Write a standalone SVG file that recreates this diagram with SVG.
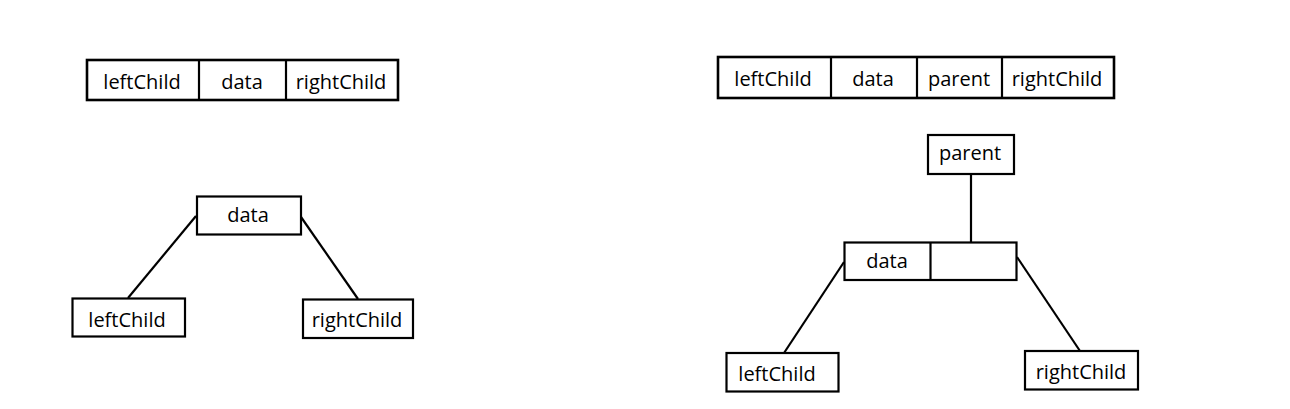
<svg xmlns="http://www.w3.org/2000/svg" width="1290" height="409" viewBox="0 0 1290 409">
<style>
.box{fill:#fff;stroke:#000;stroke-width:2.2}
.rec{fill:#fff;stroke:#000;stroke-width:2.6}
.div{stroke:#000;stroke-width:2.2}
.lbl{font-family:"Open Sans","Noto Sans",sans-serif;font-size:20px;fill:#000;text-anchor:middle}
.edge{stroke:#000;stroke-width:2.2;fill:none}
</style>
<rect width="1290" height="409" fill="#fff"/>
<g id="connectors">
<line class="edge" x1="196" y1="216" x2="128" y2="298"/>
<line class="edge" x1="301" y1="217" x2="358" y2="299"/>
<line class="edge" x1="971" y1="174" x2="971" y2="242"/>
<line class="edge" x1="844" y1="262" x2="784" y2="353"/>
<line class="edge" x1="1017" y1="257" x2="1080" y2="351"/>
</g>
<g id="record-left">
<rect class="rec" x="87" y="60" width="311" height="40"/>
<line class="div" x1="199" y1="60" x2="199" y2="100"/>
<line class="div" x1="286" y1="60" x2="286" y2="100"/>
<text class="lbl" x="142" y="89">leftChild</text>
<text class="lbl" x="242" y="89">data</text>
<text class="lbl" x="341" y="89">rightChild</text>
</g>
<g id="record-right">
<rect class="rec" x="718" y="57" width="396" height="41"/>
<line class="div" x1="831" y1="57" x2="831" y2="98"/>
<line class="div" x1="917" y1="57" x2="917" y2="98"/>
<line class="div" x1="1002" y1="57" x2="1002" y2="98"/>
<text class="lbl" x="773" y="86">leftChild</text>
<text class="lbl" x="873" y="86">data</text>
<text class="lbl" x="959" y="86">parent</text>
<text class="lbl" x="1057" y="86">rightChild</text>
</g>
<g id="node-data-left">
<rect class="box" x="197" y="196.5" width="104" height="38"/>
<text class="lbl" x="248" y="222">data</text>
</g>
<g id="node-leftChild-left">
<rect class="box" x="72.5" y="298.5" width="112.5" height="38"/>
<text class="lbl" x="127" y="327">leftChild</text>
</g>
<g id="node-rightChild-left">
<rect class="box" x="303" y="299.5" width="110" height="38.5"/>
<text class="lbl" x="357" y="327">rightChild</text>
</g>
<g id="node-parent">
<rect class="box" x="928" y="135" width="86" height="39"/>
<text class="lbl" x="970" y="160">parent</text>
</g>
<g id="node-data-right">
<rect class="box" x="844.5" y="242.5" width="172" height="37.5"/>
<line class="div" x1="930.5" y1="242.5" x2="930.5" y2="280"/>
<text class="lbl" x="887" y="268">data</text>
</g>
<g id="node-leftChild-right">
<rect class="box" x="726.5" y="353" width="112" height="38.5"/>
<text class="lbl" x="777" y="381">leftChild</text>
</g>
<g id="node-rightChild-right">
<rect class="box" x="1025" y="351" width="113" height="38.5"/>
<text class="lbl" x="1081" y="379">rightChild</text>
</g>
</svg>
